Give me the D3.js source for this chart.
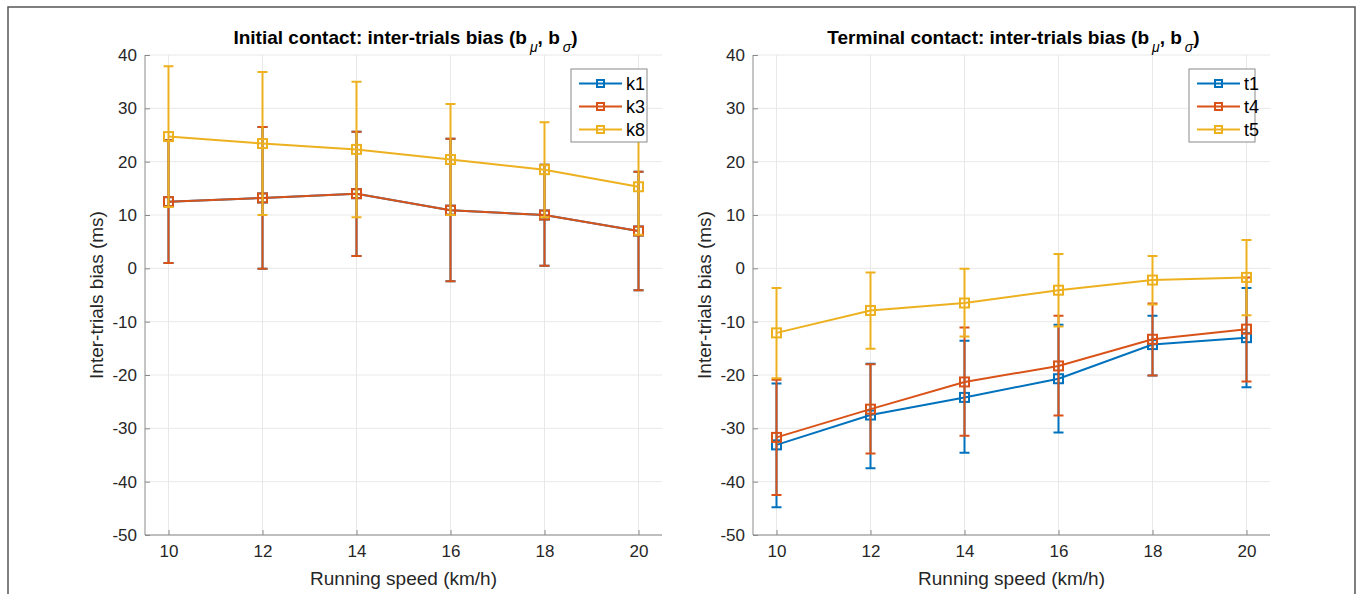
<!DOCTYPE html>
<html>
<head>
<meta charset="utf-8">
<script src="https://cdn.jsdelivr.net/npm/d3@7"></script>
<style>
  body { margin: 0; background: #fff; }
  svg { font-family: "Liberation Sans", Arial, Helvetica, sans-serif; }
  .grid line { stroke: #e8e8e8; stroke-width: 1; }
</style>
</head>
<body>
<svg id="fig" width="1357" height="594"></svg>
<script>
// running speeds (km/h)
const speeds = [10, 12, 14, 16, 18, 20];
const yTicks = [40, 30, 20, 10, 0, -10, -20, -30, -40, -50];

// Initial contact (left panel) - k1 lies under k3
const k1Mean  = [12.5, 13.2, 14.0, 10.9, 10.0, 7.0];
const k1Upper = [24.0, 26.5, 25.6, 24.3, 19.4, 18.1];
const k1Lower = [1.0, -0.1, 2.3, -2.4, 0.5, -4.1];
const k3Mean  = [12.5, 13.2, 14.0, 10.9, 10.0, 7.0];
const k3Upper = [24.0, 26.5, 25.6, 24.3, 19.4, 18.1];
const k3Lower = [1.0, -0.1, 2.3, -2.4, 0.5, -4.1];
const k8Mean  = [24.7, 23.4, 22.3, 20.4, 18.5, 15.3];
const k8Upper = [37.9, 36.8, 35.0, 30.8, 27.4, 24.3];
const k8Lower = [11.5, 10.0, 9.6, 10.0, 9.6, 6.3];

// Terminal contact (right panel)
const t1Mean  = [-33.1, -27.5, -24.2, -20.7, -14.3, -13.0];
const t1Upper = [-21.6, -17.9, -13.6, -10.6, -8.9, -3.7];
const t1Lower = [-44.8, -37.5, -34.6, -30.8, -20.1, -22.3];
const t4Mean  = [-31.7, -26.4, -21.3, -18.3, -13.3, -11.4];
const t4Upper = [-20.9, -18.0, -11.1, -8.9, -6.6, -1.7];
const t4Lower = [-42.5, -34.7, -31.4, -27.6, -20.1, -21.2];
const t5Mean  = [-12.1, -7.9, -6.5, -4.1, -2.2, -1.7];
const t5Upper = [-3.7, -0.8, -0.1, 2.7, 2.3, 5.3];
const t5Lower = [-20.6, -15.1, -12.8, -10.9, -6.8, -8.8];

const colors = ['#0072BD', '#D95319', '#EDB120'];

const panels = [
  {
    left: 145, right: 662,
    title: ['Initial contact: inter-trials bias (b', ', b', ')'],
    series: [
      { name: 'k1', mean: k1Mean, upper: k1Upper, lower: k1Lower },
      { name: 'k3', mean: k3Mean, upper: k3Upper, lower: k3Lower },
      { name: 'k8', mean: k8Mean, upper: k8Upper, lower: k8Lower }
    ],
    legendW: 76
  },
  {
    left: 753, right: 1270,
    title: ['Terminal contact: inter-trials bias (b', ', b', ')'],
    series: [
      { name: 't1', mean: t1Mean, upper: t1Upper, lower: t1Lower },
      { name: 't4', mean: t4Mean, upper: t4Upper, lower: t4Lower },
      { name: 't5', mean: t5Mean, upper: t5Upper, lower: t5Lower }
    ],
    legendW: 66
  }
];

const svg = d3.select('#fig');
const axTop = 55, axBottom = 535;

// outer frame of the figure
svg.append('path')
  .attr('d', 'M8,600 L8,7 L1355,7 L1355,600')
  .attr('fill', 'none')
  .attr('stroke', '#555')
  .attr('stroke-width', 1.5);

panels.forEach(p => {
  const x = d3.scaleLinear().domain([9.5, 20.5]).range([p.left, p.right]);
  const y = d3.scaleLinear().domain([-50, 40]).range([axBottom, axTop]);
  const g = svg.append('g');

  // grid
  const grid = g.append('g').attr('class', 'grid');
  grid.selectAll('.gy').data(yTicks).join('line')
    .attr('x1', p.left).attr('x2', p.right)
    .attr('y1', d => y(d)).attr('y2', d => y(d));
  grid.selectAll('.gx').data(speeds).join('line')
    .attr('x1', d => x(d)).attr('x2', d => x(d))
    .attr('y1', axTop).attr('y2', axBottom);

  // axes (MATLAB style: ticks inside, no box)
  const yAxis = d3.axisLeft(y).tickValues(yTicks).tickFormat(d => String(d)).tickSize(-5).tickPadding(8);
  const xAxis = d3.axisBottom(x).tickValues(speeds).tickFormat(d => String(d)).tickSize(-5).tickPadding(10);
  const yG = g.append('g').attr('transform', `translate(${p.left},0)`).call(yAxis);
  const xG = g.append('g').attr('transform', `translate(0,${axBottom})`).call(xAxis);
  yG.select('.domain').attr('d', `M0,${axTop}V${axBottom}`);
  xG.select('.domain').attr('d', `M${p.left},0H${p.right}`);
  [yG, xG].forEach(a => {
    a.attr('font-size', 17).attr('font-family', null);
    a.select('.domain').attr('stroke', '#8a8a8a');
    a.selectAll('.tick line').attr('stroke', '#8a8a8a');
    a.selectAll('.tick text').attr('fill', '#262626');
  });

  // labels
  g.append('text')
    .attr('fill', '#262626').attr('font-size', 19)
    .attr('text-anchor', 'middle')
    .attr('transform', `translate(${p.left - 42},${(axTop + axBottom) / 2}) rotate(-90)`)
    .text('Inter-trials bias (ms)');
  g.append('text')
    .attr('fill', '#262626').attr('font-size', 19)
    .attr('text-anchor', 'middle')
    .attr('x', (p.left + p.right) / 2).attr('y', 585)
    .text('Running speed (km/h)');

  const t = g.append('text')
    .attr('fill', '#000').attr('font-size', 19).attr('font-weight', 'bold')
    .attr('text-anchor', 'middle')
    .attr('x', (p.left + p.right) / 2 + 2).attr('y', 44);
  t.append('tspan').text(p.title[0]);
  t.append('tspan').attr('dx', 3).attr('dy', 8).attr('font-size', 14).attr('font-style', 'italic').attr('font-weight', 'normal').text('μ');
  t.append('tspan').attr('dy', -8).text(p.title[1]);
  t.append('tspan').attr('dx', 3).attr('dy', 8).attr('font-size', 14).attr('font-style', 'italic').attr('font-weight', 'normal').text('σ');
  t.append('tspan').attr('dy', -8).text(p.title[2]);

  // series: error bars, line, square markers
  const line = d3.line().x(d => x(d.s)).y(d => y(d.m));
  p.series.forEach((s, i) => {
    const pts = speeds.map((sp, j) => ({ s: sp, m: s.mean[j], hi: s.upper[j], lo: s.lower[j] }));
    const sg = g.append('g').attr('stroke', colors[i]).attr('fill', 'none').attr('stroke-width', 2);
    sg.selectAll('.bar').data(pts).join('path')
      .attr('d', d => {
        const cx = x(d.s);
        return `M${cx},${y(d.lo)}V${y(d.hi)}M${cx - 5},${y(d.hi)}H${cx + 5}M${cx - 5},${y(d.lo)}H${cx + 5}`;
      });
    sg.append('path').datum(pts).attr('d', line);
    sg.selectAll('.mk').data(pts).join('rect')
      .attr('x', d => x(d.s) - 4.5).attr('y', d => y(d.m) - 4.5)
      .attr('width', 9).attr('height', 9);
  });

  // legend
  const lx = p.right - 15 - p.legendW, ly = 69;
  const lg = g.append('g').attr('transform', `translate(${lx},${ly})`);
  lg.append('rect').attr('width', p.legendW).attr('height', 73)
    .attr('fill', '#fff').attr('stroke', '#8a8a8a').attr('stroke-width', 1);
  p.series.forEach((s, i) => {
    const yy = 14.5 + i * 23;
    lg.append('line').attr('x1', 8).attr('x2', 51).attr('y1', yy).attr('y2', yy)
      .attr('stroke', colors[i]).attr('stroke-width', 2);
    lg.append('rect').attr('x', 29.5 - 3.5).attr('y', yy - 3.5).attr('width', 7).attr('height', 7)
      .attr('fill', 'none').attr('stroke', colors[i]).attr('stroke-width', 2);
    lg.append('text').attr('x', 55).attr('y', yy + 6)
      .attr('fill', '#000').attr('font-size', 18).text(s.name);
  });
});
</script>
</body>
</html>
